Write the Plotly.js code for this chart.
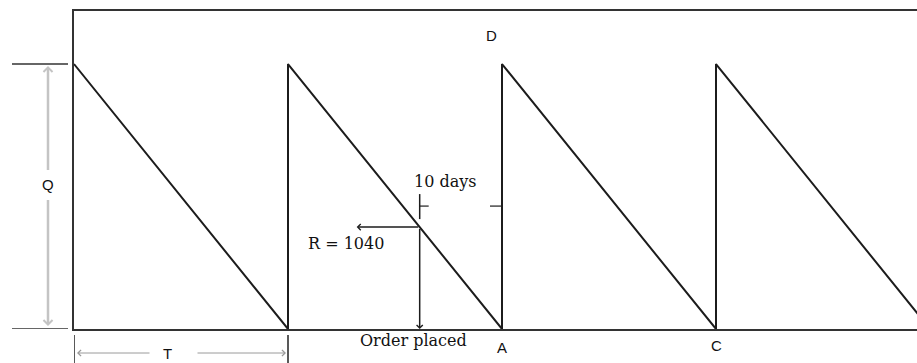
<!DOCTYPE html>
<html>
<head>
<meta charset="utf-8">
<script src="https://cdn.plot.ly/plotly-3.0.1.min.js"></script>
<style>html,body{margin:0;padding:0;background:#fff;}#chart{width:917px;height:363px;}</style>
</head>
<body>
<div id="chart"></div>
<script>
// ---- data ----
const timeDays   = [0, 26, 26, 52, 52, 78, 78, 104];       // time (days)
const stockUnits = [2704, 0, 2704, 0, 2704, 0, 2704, 0];   // inventory level
const orderQty = 2704;        // Q
const reorderLevel = 1040;    // R
const reorderDay = 42;        // order placed
const leadTimeDays = 10;      // lead time
const cycleDays = 26;         // T
const pointLabels = ['A', 'C'];
const pointDays = [52, 78];

// ---- layout geometry ----
const W = 917, H = 363;
const mL = 74, mR = 0, mT = 11, mB = 34;
const plotW = W - mL - mR, plotH = H - mT - mB;
const xMax = 102.42, yMax = 3245;
const pxX = p => (p - mL) / plotW;            // pixel -> paper
const pxY = p => (mT + plotH - p) / plotH;
const dY = p => p * yMax / plotH;              // pixel length -> data units (y)
const dX = p => p * xMax / plotW;

const ink = '#1c1c1c';
const letterFont = {family: 'Liberation Sans, Arial, sans-serif', size: 15, color: '#111'};
const serifFont = {family: 'DejaVu Serif, serif', size: 16, color: '#111'};

const trace = {
  x: timeDays, y: stockUnits, type: 'scatter', mode: 'lines',
  line: {color: ink, width: 2}, hoverinfo: 'skip', showlegend: false
};

const shapes = [
  // extension lines at Q and 0 on the left
  {type: 'line', xref: 'paper', yref: 'y', x0: pxX(12), x1: pxX(68), y0: orderQty, y1: orderQty, line: {color: '#333', width: 1.5}},
  {type: 'line', xref: 'paper', yref: 'y', x0: pxX(12), x1: pxX(68), y0: 0, y1: 0, line: {color: '#333', width: 1.5}},
  // T dimension ticks
  {type: 'line', xref: 'x', yref: 'paper', x0: 0, x1: 0, y0: pxY(335), y1: pxY(363), line: {color: '#222', width: 1.5}},
  {type: 'line', xref: 'x', yref: 'paper', x0: cycleDays, x1: cycleDays, y0: pxY(335), y1: pxY(363), line: {color: '#222', width: 1.5}},
  // lead time marks
  {type: 'line', xref: 'x', yref: 'y', x0: reorderDay, x1: reorderDay, y0: reorderLevel + dY(8), y1: reorderLevel + dY(33), line: {color: ink, width: 1.5}},
  {type: 'line', xref: 'x', yref: 'y', x0: reorderDay, x1: reorderDay + dX(9), y0: reorderLevel + dY(21), y1: reorderLevel + dY(21), line: {color: ink, width: 1.2}},
  {type: 'line', xref: 'x', yref: 'y', x0: reorderDay + leadTimeDays - dX(12), x1: reorderDay + leadTimeDays, y0: reorderLevel + dY(21), y1: reorderLevel + dY(21), line: {color: ink, width: 1.2}}
];

const arrow = (o) => Object.assign({text: ' ', font: {size: 1}, showarrow: true, arrowhead: 4, arrowsize: 0.8, arrowwidth: 1.5, arrowcolor: ink}, o);
const label = (o) => Object.assign({showarrow: false, xanchor: 'center', yanchor: 'middle', font: letterFont}, o);

const annotations = [
  // Q double arrow (gray)
  arrow({xref: 'paper', yref: 'paper', x: pxX(48), y: pxY(66), ax: 0, ay: 106, arrowcolor: '#c4c4c4', arrowwidth: 2.5, arrowsize: 0.7}),
  arrow({xref: 'paper', yref: 'paper', x: pxX(48), y: pxY(326), ax: 0, ay: -128, arrowcolor: '#c4c4c4', arrowwidth: 2.5, arrowsize: 0.7}),
  // T arrows (gray)
  arrow({xref: 'paper', yref: 'paper', x: pxX(77), y: pxY(353), ax: 74, ay: 0, arrowcolor: '#9a9a9a', arrowwidth: 1, arrowsize: 1.2}),
  arrow({xref: 'paper', yref: 'paper', x: pxX(286), y: pxY(353), ax: -90, ay: 0, arrowcolor: '#9a9a9a', arrowwidth: 1, arrowsize: 1.2}),
  // reorder arrows
  arrow({xref: 'x', yref: 'y', x: reorderDay, y: 0, axref: 'x', ayref: 'y', ax: reorderDay, ay: reorderLevel}),
  arrow({xref: 'x', yref: 'y', x: reorderDay - dX(63), y: reorderLevel, axref: 'x', ayref: 'y', ax: reorderDay, ay: reorderLevel}),
  // labels
  label({xref: 'paper', yref: 'paper', x: pxX(491), y: pxY(36), text: 'D'}),
  label({xref: 'paper', yref: 'paper', x: pxX(48), y: pxY(184), text: 'Q'}),
  label({xref: 'paper', yref: 'paper', x: pxX(167), y: pxY(353), text: 'T'}),
  label({xref: 'paper', yref: 'paper', x: pxX(445), y: pxY(181), text: leadTimeDays + ' days', font: serifFont}),
  label({xref: 'paper', yref: 'paper', x: pxX(346), y: pxY(243), text: 'R = ' + reorderLevel, font: serifFont}),
  label({xref: 'paper', yref: 'paper', x: pxX(413), y: pxY(340), text: 'Order placed', font: serifFont}),
  label({xref: 'x', yref: 'paper', x: pointDays[0], y: pxY(347), text: pointLabels[0]}),
  label({xref: 'x', yref: 'paper', x: pointDays[1], y: pxY(345), text: pointLabels[1]})
];

const layout = {
  width: W, height: H,
  margin: {l: mL, r: mR, t: mT, b: mB, pad: 0},
  paper_bgcolor: '#fff', plot_bgcolor: '#fff',
  showlegend: false,
  xaxis: {range: [0, xMax], showgrid: false, zeroline: false, showticklabels: false, ticks: '',
          showline: true, linecolor: '#333', linewidth: 2, mirror: true, fixedrange: true},
  yaxis: {range: [0, yMax], showgrid: false, zeroline: false, showticklabels: false, ticks: '',
          showline: true, linecolor: '#333', linewidth: 2, mirror: false, fixedrange: true},
  shapes: shapes,
  annotations: annotations
};

Plotly.newPlot('chart', [trace], layout, {staticPlot: true, displayModeBar: false});
</script>
</body>
</html>
